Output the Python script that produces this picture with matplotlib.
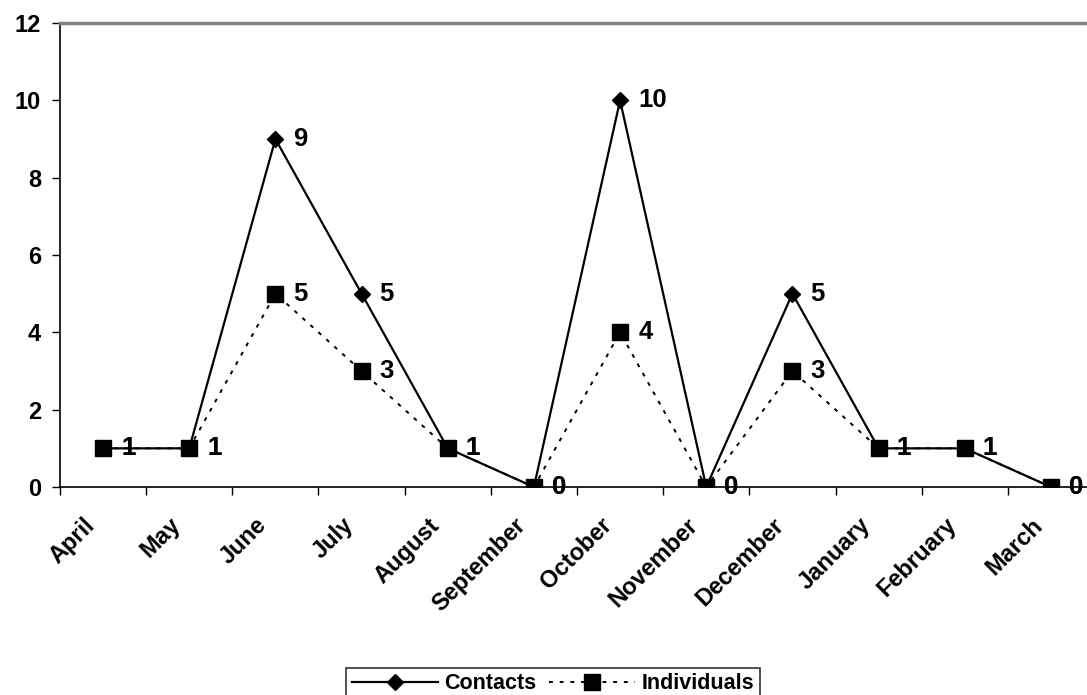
import matplotlib.pyplot as plt
import matplotlib.transforms as mtransforms
import numpy as np

months = ['April', 'May', 'June', 'July', 'August', 'September', 'October',
          'November', 'December', 'January', 'February', 'March']
contacts = [1, 1, 9, 5, 1, 0, 10, 0, 5, 1, 1, 0]
individuals = [1, 1, 5, 3, 1, 0, 4, 0, 3, 1, 1, 0]

plt.rcParams['font.family'] = ['Liberation Sans', 'DejaVu Sans']
plt.rcParams['font.weight'] = 'bold'

W, H = 1087, 695
fig = plt.figure(figsize=(W / 100, H / 100), dpi=100)
# plot area runs a little past the right edge of the figure
ax = fig.add_axes([60 / W, 1 - 487 / H, 1034 / W, 464 / H])

x = np.arange(len(months))

ax.plot(x, individuals, color='black', lw=1.4, linestyle=(0, (2, 3.5)),
        marker='s', markersize=11, label='Individuals', zorder=3)
ax.plot(x, contacts, color='black', lw=1.6, marker='D', markersize=8.5,
        label='Contacts', zorder=4)

# value labels sit just right of each point
for series in (individuals, contacts):
    for xi, v in zip(x, series):
        ax.annotate(str(v), (xi, v), xytext=(13, 0), textcoords='offset points',
                    ha='left', va='center', fontsize=18.5, fontweight='bold',
                    zorder=2)

ax.set_xlim(-0.5, len(months) - 0.5)
ax.set_ylim(0, 12)
ax.set_yticks(range(0, 13, 2))
ax.set_xticks(np.arange(-0.5, len(months), 1.0))
ax.set_xticklabels([])
ax.set_xticks(x, minor=True)
ax.set_xticklabels(months, minor=True, rotation=45, ha='right', va='center',
                   rotation_mode='anchor', fontsize=17, fontweight='bold')
ax.tick_params(axis='x', which='minor', length=0, pad=25)
ax.tick_params(axis='x', which='major', length=5.5, width=1, direction='out')
ax.tick_params(axis='y', length=5.5, width=1, direction='out', labelsize=17, pad=8)
for lbl in ax.get_yticklabels():
    lbl.set_fontweight('bold')

# nudge the rotated month names a bit to the left
shift = mtransforms.ScaledTranslation(-12 / 100, 0, fig.dpi_scale_trans)
for lbl in ax.get_xticklabels(minor=True):
    lbl.set_transform(lbl.get_transform() + shift)

ax.spines['right'].set_visible(False)
ax.spines['top'].set_color('#808080')
ax.spines['top'].set_linewidth(2.5)
ax.spines['left'].set_linewidth(1.2)
ax.spines['bottom'].set_linewidth(1.2)

handles, labels = ax.get_legend_handles_labels()
leg = fig.legend(handles[::-1], labels[::-1], loc='upper center',
                 bbox_to_anchor=(553 / W, 1 - 657 / H), ncol=2, frameon=True,
                 fancybox=False, edgecolor='black', fontsize=15.5,
                 handlelength=4.0, columnspacing=0.6, borderpad=0.25,
                 handletextpad=0.3)
leg.get_frame().set_linewidth(1.2)
for t in leg.get_texts():
    t.set_fontweight('bold')

fig.savefig('out.png', dpi=100)
